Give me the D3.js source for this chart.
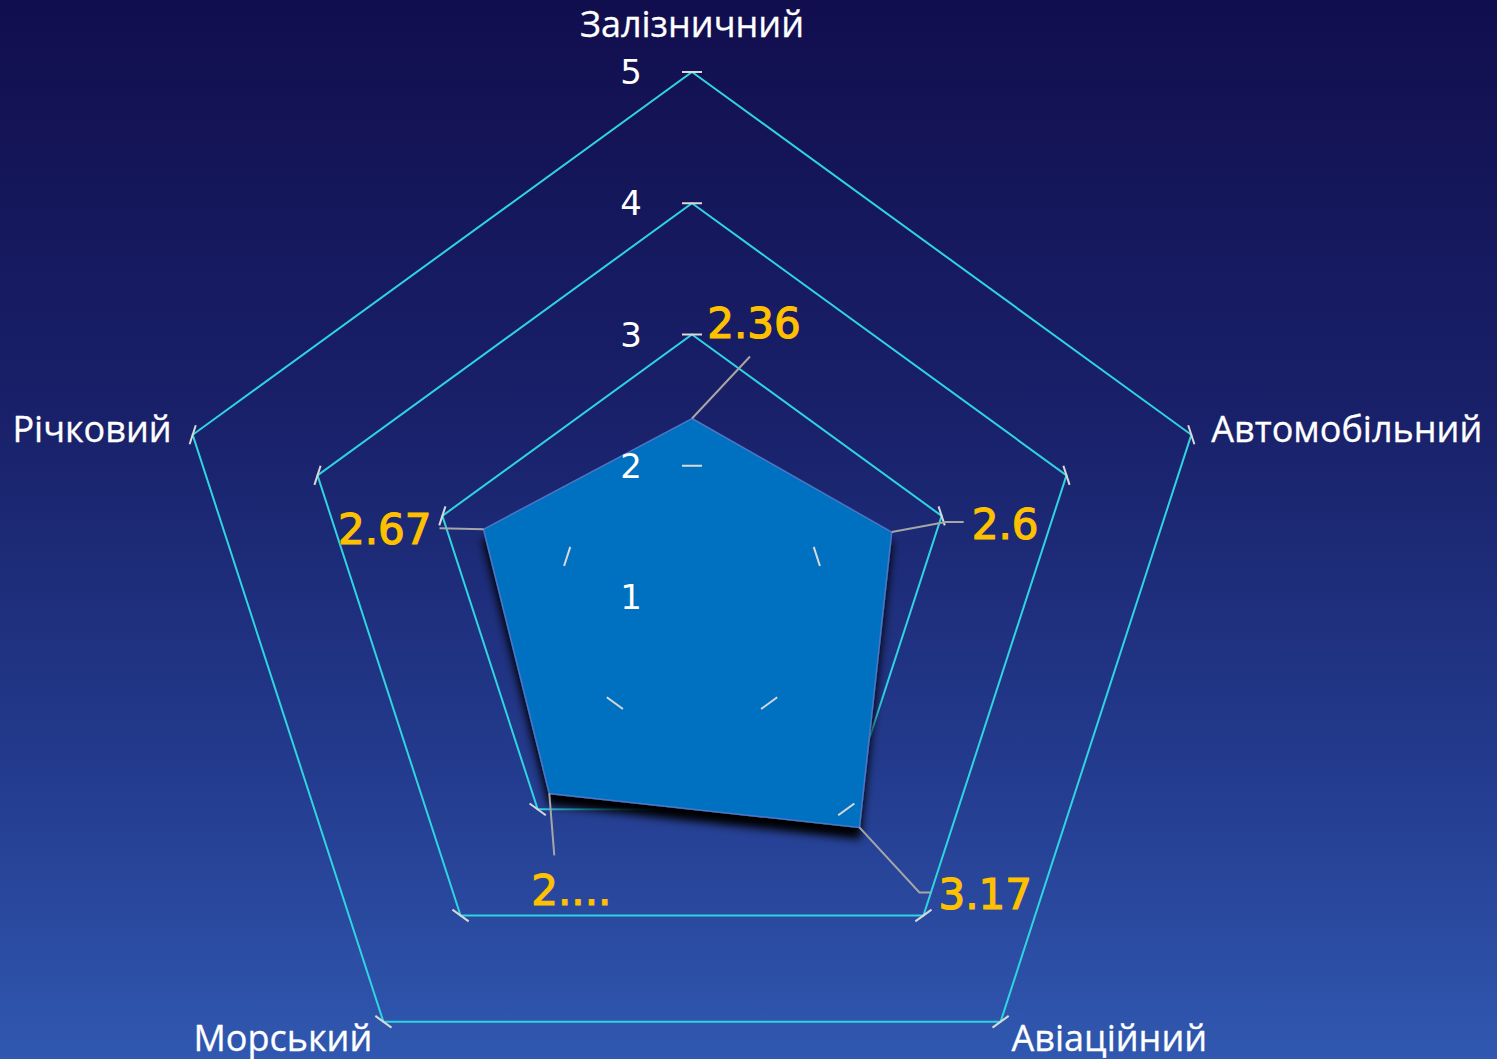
<!DOCTYPE html>
<html lang="uk">
<head>
    <meta charset="UTF-8">
    <title>Радар видів транспорту</title>
    <script src="https://d3js.org/d3.v7.min.js"></script>
    <style>
        html, body {
            margin: 0;
            padding: 0;
            overflow: hidden;
        }

        .cat {
            font-family: "Open Sans", sans-serif;
            font-size: 36px;
            fill: #ffffff;
            stroke: #ffffff;
            stroke-width: 0.3px;
        }

        .tick_txt {
            font-family: "DejaVu Sans", sans-serif;
            font-size: 34px;
            fill: #ffffff;
        }

        .val_txt {
            font-family: "DejaVu Sans", sans-serif;
            font-size: 42px;
            fill: #ffc000;
            stroke: #ffc000;
            stroke-width: 1.2px;
        }
    </style>
</head>
<body>
<svg width="1497" height="1059"></svg>

<script type="application/javascript">

    // dane
    const categories = ["Залізничний", "Автомобільний", "Авіаційний", "Морський", "Річковий"]
    const values = [2.36, 2.6, 3.17, 2.85, 2.67]
    const valueLabels = ["2.36", "2.6", "3.17", "2....", "2.67"]
    const tickValues = [1, 2, 3, 4, 5]

    // ustawienie etykiet danych (przesunięcie od wierzchołka)
    const labelLayout = [
        {leader: [[0, 0], [58, -62]], pos: [62, -96], anchor: "middle"},
        {leader: [[0, 0], [54, -10], [72, -10]], pos: [80, -8], anchor: "start"},
        {leader: [[0, 0], [60, 65], [72, 65]], pos: [79, 66], anchor: "start"},
        {leader: [[0, 0], [5, 62]], pos: [22, 96], anchor: "middle"},
        {leader: [[0, 0], [-44, -1]], pos: [-52, 0], anchor: "end"}
    ]

    const W = 1497, H = 1059
    const cx = 692, cy = 597

    const svg = d3.select("svg")
    const defs = svg.append("defs")

    const grad = defs.append("linearGradient")
        .attr("id", "fondo")
        .attr("x1", 0).attr("y1", 0).attr("x2", 0).attr("y2", 1)
    grad.append("stop").attr("offset", "0").attr("stop-color", "#110e4e")
    grad.append("stop").attr("offset", "0.4").attr("stop-color", "#19216a")
    grad.append("stop").attr("offset", "0.75").attr("stop-color", "#243d90")
    grad.append("stop").attr("offset", "1").attr("stop-color", "#3058b0")

    const sombra = defs.append("filter")
        .attr("id", "sombra")
        .attr("x", "-20%").attr("y", "-20%").attr("width", "140%").attr("height", "140%")
    sombra.append("feDropShadow")
        .attr("dx", 0).attr("dy", 11)
        .attr("stdDeviation", 4)
        .attr("flood-color", "#000000")
        .attr("flood-opacity", 1)

    svg.append("rect")
        .attr("width", W).attr("height", H)
        .attr("fill", "url(#fondo)")

    const r = d3.scaleLinear().domain([1, 5]).range([0, 525])
    const angle = d3.scaleLinear().domain([0, categories.length]).range([0, 2 * Math.PI])

    function punto(i, v) {
        const a = angle(i)
        return [cx + r(v) * Math.sin(a), cy - r(v) * Math.cos(a)]
    }

    // anillos
    svg.append("g")
        .selectAll("path")
        .data(tickValues.slice(1))
        .enter()
        .append("path")
        .attr("d", function (t) {
            return d3.line()(categories.map((c, i) => punto(i, t))) + "Z"
        })
        .attr("fill", "none")
        .attr("stroke", "#2fd4e0")
        .attr("stroke-width", 2)

    // poligono de datos
    svg.append("path")
        .attr("d", d3.line()(values.map((v, i) => punto(i, v))) + "Z")
        .attr("fill", "#0070c0")
        .attr("stroke", "#4a76c6")
        .attr("stroke-width", 1.5)
        .attr("filter", "url(#sombra)")

    // marcas en los ejes
    const marcas = []
    categories.forEach(function (c, i) {
        tickValues.slice(1).forEach(function (t) {
            marcas.push({i: i, t: t})
        })
    })
    svg.append("g")
        .selectAll("line")
        .data(marcas)
        .enter()
        .append("line")
        .each(function (d) {
            const p = punto(d.i, d.t)
            const a = angle(d.i)
            const ux = Math.cos(a) * 10, uy = Math.sin(a) * 10
            d3.select(this)
                .attr("x1", p[0] - ux).attr("y1", p[1] - uy)
                .attr("x2", p[0] + ux).attr("y2", p[1] + uy)
        })
        .attr("stroke", "#d9d9d9")
        .attr("stroke-width", 2)

    // etiquetas del eje de valores
    svg.append("g")
        .selectAll("text")
        .data(tickValues)
        .enter()
        .append("text")
        .attr("class", "tick_txt")
        .attr("x", cx - 50)
        .attr("y", d => cy - r(d))
        .attr("dy", "0.36em")
        .attr("text-anchor", "end")
        .text(d => d)

    // lineas guia
    svg.append("g")
        .selectAll("path")
        .data(values)
        .enter()
        .append("path")
        .attr("d", function (v, i) {
            const p = punto(i, v)
            return d3.line()(labelLayout[i].leader.map(o => [p[0] + o[0], p[1] + o[1]]))
        })
        .attr("fill", "none")
        .attr("stroke", "#a6a6a6")
        .attr("stroke-width", 2)

    // etiquetas de valores
    svg.append("g")
        .selectAll("text")
        .data(values)
        .enter()
        .append("text")
        .attr("class", "val_txt")
        .attr("x", (v, i) => punto(i, v)[0] + labelLayout[i].pos[0])
        .attr("y", (v, i) => punto(i, v)[1] + labelLayout[i].pos[1])
        .attr("dy", "0.36em")
        .attr("text-anchor", (v, i) => labelLayout[i].anchor)
        .text((v, i) => valueLabels[i])

    // categorias
    svg.append("g")
        .selectAll("text")
        .data(categories)
        .enter()
        .append("text")
        .attr("class", "cat")
        .each(function (c, i) {
            const p = punto(i, 5)
            const s = Math.sin(angle(i))
            const el = d3.select(this)
            if (Math.abs(s) < 0.01) {
                el.attr("x", p[0]).attr("y", p[1] - 48).attr("text-anchor", "middle")
            } else if (s > 0) {
                el.attr("x", p[0] + (s > 0.9 ? 20 : 11)).attr("y", p[1] + (s > 0.9 ? -6 : 16)).attr("text-anchor", "start")
            } else {
                el.attr("x", p[0] - (s < -0.9 ? 21 : 11)).attr("y", p[1] + (s < -0.9 ? -6 : 16)).attr("text-anchor", "end")
            }
        })
        .attr("dy", "0.36em")
        .text(d => d)

</script>
</body>
</html>
